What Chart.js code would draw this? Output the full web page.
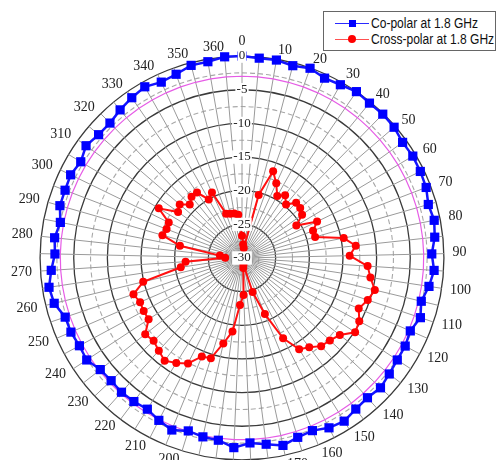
<!DOCTYPE html>
<html>
<head>
<meta charset="utf-8">
<script src="https://cdn.jsdelivr.net/npm/chart.js@4.4.1/dist/chart.umd.min.js"></script>
<style>
  html, body { margin: 0; padding: 0; background: #fff; overflow: hidden; }
  body { width: 498px; height: 460px; position: relative; }
  #wrap { position: absolute; left: 0; top: 1px; width: 498px; height: 490px; }
  #legend {
    position: absolute; left: 323px; top: 11px; width: 171px; height: 38px;
    border: 1px solid #666; background: #fff;
    font-family: "Liberation Sans", sans-serif;
    font-size: 14px; color: #111;
  }
  .row { position: absolute; left: 0; height: 16px; line-height: 16px; white-space: nowrap; }
  .icon { position: absolute; left: 11px; top: 8px; width: 34px; height: 1px; }
  .mk { position: absolute; }
  .txt { position: absolute; left: 47px; top: 0; transform: scaleX(0.86); transform-origin: 0 50%; }
</style>
</head>
<body>
<div id="wrap"><canvas id="grafikPolar"></canvas></div>
<div id="legend">
  <div class="row" style="top:3px">
    <span class="icon" style="background:#2a2aff"></span>
    <span class="mk" style="left:25px;top:5px;width:7px;height:7px;background:#0000ff"></span>
    <span class="txt">Co-polar at 1.8 GHz</span>
  </div>
  <div class="row" style="top:19px">
    <span class="icon" style="background:#ff5050"></span>
    <span class="mk" style="left:24px;top:4px;width:8px;height:8px;border-radius:50%;background:#ff0000"></span>
    <span class="txt">Cross-polar at 1.8 GHz</span>
  </div>
</div>
<script>
// --- DATA ---
// sudut 0..360 (73 titik, 360 tidak menumpuk di 0 seperti gambar asli)
var sudut = [0, 5, 10, 15, 20, 25, 30, 35, 40, 45, 50, 55, 60, 65, 70, 75, 80, 85,
  90, 95, 100, 105, 110, 115, 120, 125, 130, 135, 140, 145, 150, 155, 160, 165, 170, 175,
  180, 185, 190, 195, 200, 205, 210, 215, 220, 225, 230, 235, 240, 245, 250, 255, 260, 265,
  270, 275, 280, 285, 290, 295, 300, 305, 310, 315, 320, 325, 330, 335, 340, 345, 350, 355, 360];

// label sudut (tiap 10 derajat)
var labelSudut = ['0', '', '10', '', '20', '', '30', '', '40', '', '50', '', '60', '', '70', '', '80', '',
  '90', '', '100', '', '110', '', '120', '', '130', '', '140', '', '150', '', '160', '', '170', '',
  '180', '', '190', '', '200', '', '210', '', '220', '', '230', '', '240', '', '250', '', '260', '',
  '270', '', '280', '', '290', '', '300', '', '310', '', '320', '', '330', '', '340', '', '350', '', '360'];

var coPolar = [0.0, -0.2, -0.15, -0.45, -0.05, -0.6, -0.4, 0.0, -0.2, -0.1, -0.2, -0.6,
  -0.45, -0.55, -0.7, -1.2, -0.9, -1.2, -1.8, -1.4, -1.9, -2.6, -2.05, -2.75,
  -2.45, -2.4, -2.15, -1.8, -2.1, -1.9, -1.4, -1.65, -2.3, -2.1, -1.5, -2.1,
  -2.5, -1.8, -2.7, -2.8, -3.1, -2.4, -2.9, -3.5, -3.3, -3.2, -3.35, -3.2,
  -2.4, -2.55, -2.3, -2.3, -1.3, -1.0, -1.6, -2.2, -2.0, -2.5, -1.85, -1.85,
  -1.7, -2.1, -1.45, -1.9, -1.95, -1.5, -1.1, -0.75, -1.25, -1.0, -0.4, -0.4, 0.0];

var crossPolar = [-26.7, -28, -28.5, -20.3, -16.3, -17.8, -19.4, -18.7, -19.7, -18.5, -18.6, -19.0,
  -20.6, -17.6, -18.7, -18.7, -14.6, -13.0, -14.0, -11.3, -10.7, -9.7, -10.3, -11.1,
  -10.2, -9.9, -11.5, -12.1, -12.4, -13.4, -14.0, -16.6, -21.0, -24.7, -29.0, -28.5,
  -24.5, -23.0, -19.0, -17.0, -14.4, -14.2, -12.4, -11.6, -10.9, -11.5, -12.0, -11.7,
  -13.4, -13.4, -13.5, -13.0, -14.9, -20.8, -21.6, -27.5, -26.7, -20.6, -17.7, -18.0,
  -17.9, -15.6, -18.3, -17.8, -18.9, -18.2, -18.2, -20.0, -19.3, -23.0, -23.2, -23.3, -23.55];

// garis referensi -3 dB (lingkaran magenta)
var garis3dB = sudut.map(function() { return -3; });

var skalaMin = -30;
var skalaMax = 0;
var langkahSkala = 2.5;

// --- PLUGIN: label skala digambar lagi di atas data ---
var labelDiAtas = {
  id: 'labelDiAtas',
  afterDatasetsDraw: function(chart) {
    chart.scales.r.drawLabels();
  }
};

var ctx = document.getElementById('grafikPolar').getContext('2d');
var chartPolar = new Chart(ctx, {
  type: 'radar',
  data: {
    labels: labelSudut,
    datasets: [{
      label: 'Co-polar at 1.8 GHz',
      data: coPolar,
      borderColor: '#1414ff',
      backgroundColor: '#0000ff',
      borderWidth: 2.5,
      pointStyle: 'rect',
      pointRadius: 6.5,
      pointBorderWidth: 0,
      pointBackgroundColor: '#0000ff',
      fill: false
    }, {
      label: 'Cross-polar at 1.8 GHz',
      data: crossPolar,
      borderColor: '#ff1010',
      backgroundColor: '#ff0000',
      borderWidth: 2,
      pointStyle: 'circle',
      pointRadius: 4,
      pointBorderWidth: 0,
      pointBackgroundColor: '#ff0000',
      fill: false
    }, {
      label: 'ref',
      data: garis3dB,
      borderColor: '#e65ce6',
      borderWidth: 1.2,
      pointRadius: 0,
      fill: false
    }]
  },
  options: {
    responsive: true,
    maintainAspectRatio: false,
    animation: false,
    layout: { padding: { left: 11, right: 25, top: 20, bottom: 0 } },
    plugins: {
      legend: { display: false },
      tooltip: { enabled: false }
    },
    scales: {
      r: {
        min: skalaMin,
        max: skalaMax,
        beginAtZero: false,
        ticks: {
          stepSize: langkahSkala,
          color: '#222',
          font: { family: 'Liberation Serif', size: 13 },
          backdropColor: '#fff',
          backdropPadding: { x: 1, y: 0 },
          showLabelBackdrop: function(c) { return c.tick && c.tick.value % 5 === 0; },
          callback: function(v) { return v % 5 === 0 ? String(v) : ''; }
        },
        grid: {
          circular: true,
          color: function(c) { return c.index % 2 === 0 ? '#3a3a3a' : '#a8a8a8'; },
          lineWidth: function(c) { return c.index % 2 === 0 ? 1.3 : 1.1; }
        },
        border: {
          dash: function(c) { return c.index % 2 === 0 ? [] : [5, 3]; }
        },
        angleLines: { color: '#9a9a9a', lineWidth: 1 },
        pointLabels: {
          color: '#222',
          padding: function(c) { return c.index === 0 ? 8 : 2; },
          font: { family: 'Liberation Serif', size: 14, lineHeight: 0.1 }
        }
      }
    }
  },
  plugins: [labelDiAtas]
});
</script>
</body>
</html>
